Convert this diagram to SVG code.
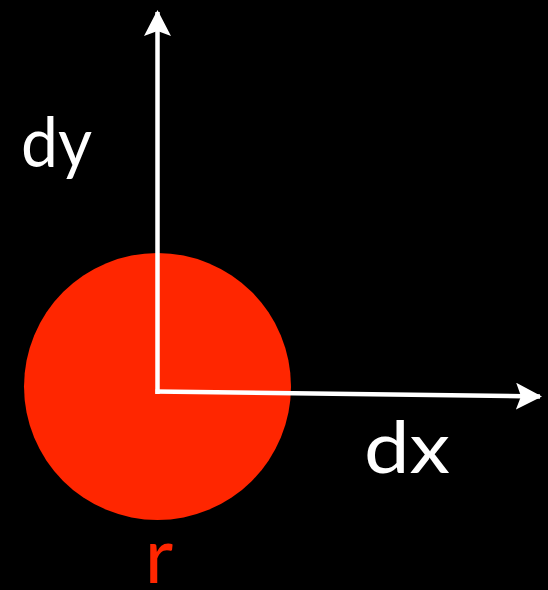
<svg xmlns="http://www.w3.org/2000/svg" width="548" height="590" viewBox="0 0 548 590">
<style>
.lbl{font-family:Lato,"Open Sans","DejaVu Sans",sans-serif;fill:#ffffff}
.ax{stroke:#ffffff;stroke-width:4.5;fill:none}
</style>
<defs>
<marker id="ah" viewBox="0 0 26 27" refX="24" refY="13.5" markerWidth="26" markerHeight="27" markerUnits="userSpaceOnUse" orient="auto">
<path d="M0,0 L26,13.5 L0,27 L5,13.5 Z" fill="#ffffff"/>
</marker>
</defs>
<rect width="548" height="590" fill="#000000"/>
<g id="circle">
<circle cx="157.5" cy="386.5" r="133.5" fill="#ff2600"/>
<text x="159" y="583" font-size="78" text-anchor="middle" class="lbl" style="fill:#ff2600">r</text>
</g>
<g id="connectors">
<line class="ax" x1="157.5" y1="394" x2="157.5" y2="12" marker-end="url(#ah)"/>
<line class="ax" x1="155.5" y1="391.5" x2="540" y2="396.5" marker-end="url(#ah)"/>
</g>
<g id="dy"><text x="21" y="167" font-size="70" class="lbl" textLength="71" lengthAdjust="spacingAndGlyphs">dy</text></g>
<g id="dx"><text x="364" y="473" font-size="72" class="lbl" textLength="86" lengthAdjust="spacingAndGlyphs">dx</text></g>
</svg>
